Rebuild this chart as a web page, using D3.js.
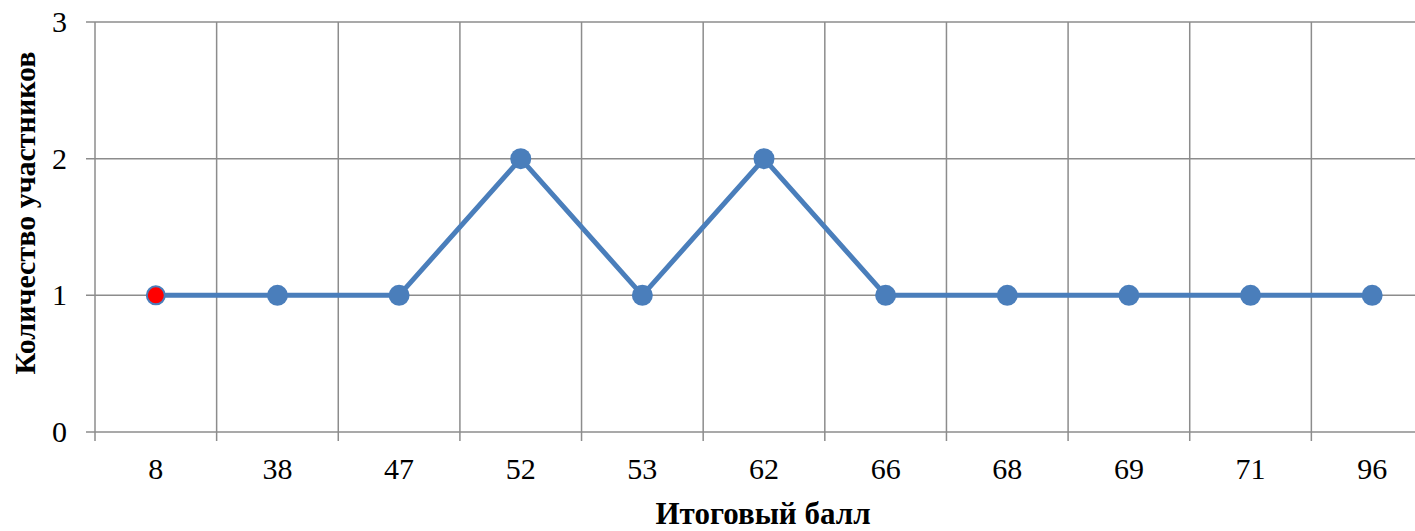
<!DOCTYPE html>
<html>
<head>
<meta charset="utf-8">
<script src="https://cdn.jsdelivr.net/npm/d3@7"></script>
<style>
  body { margin: 0; background: #fff; }
  svg { display: block; font-family: "Liberation Serif", "Times New Roman", serif; }
</style>
</head>
<body>
<svg id="chart" width="1415" height="531"></svg>
<script>
// scores (categories) and number of participants
const scores = ["8", "38", "47", "52", "53", "62", "66", "68", "69", "71", "96"];
const counts = [1, 1, 1, 2, 1, 2, 1, 1, 1, 1, 1];
const yTicks = [0, 1, 2, 3];
const highlighted = ["8"];

const svg = d3.select("#chart");
const margin = { left: 95, top: 22, bottom: 99 };
const plotW = 1338; // runs past the right edge of the picture, as in the original
const height = 531 - margin.top - margin.bottom;

const g = svg.append("g").attr("transform", `translate(${margin.left},${margin.top})`);

const x = d3.scaleBand().domain(scores).range([0, plotW]);
const y = d3.scaleLinear().domain([0, 3]).range([height, 0]);

const gridColor = "#8c8c8c";

// horizontal grid + y tick marks
g.selectAll(".hgrid")
  .data(yTicks)
  .join("line")
  .attr("x1", -9).attr("x2", plotW)
  .attr("y1", d => y(d)).attr("y2", d => y(d))
  .attr("stroke", gridColor).attr("stroke-width", 1.5);

// vertical grid at band boundaries (with tick below the axis)
const bounds = scores.map(s => x(s)).concat([plotW]);
g.selectAll(".vgrid")
  .data(bounds)
  .join("line")
  .attr("x1", d => d).attr("x2", d => d)
  .attr("y1", 0).attr("y2", height + 9)
  .attr("stroke", gridColor).attr("stroke-width", 1.5);

// y axis labels
const yAxis = d3.axisLeft(y).tickValues(yTicks).tickSize(0).tickPadding(28).tickFormat(d3.format("d"));
g.append("g").call(yAxis)
  .attr("font-size", null).attr("font-family", null)
  .call(a => a.select(".domain").remove())
  .selectAll("text")
  .style("font-size", "30px").attr("fill", "#000");

// x axis labels
const xAxis = d3.axisBottom(x).tickSize(0).tickPadding(26);
g.append("g").attr("transform", `translate(0,${height})`).call(xAxis)
  .attr("font-size", null).attr("font-family", null)
  .call(a => a.select(".domain").remove())
  .selectAll("text")
  .style("font-size", "30px").attr("fill", "#000");

// line
const cx = d => x(d) + x.bandwidth() / 2;
const line = d3.line().x((d, i) => cx(scores[i])).y(d => y(d));
g.append("path")
  .datum(counts)
  .attr("d", line)
  .attr("fill", "none")
  .attr("stroke", "#4a7ebb")
  .attr("stroke-width", 5)
  .attr("stroke-linejoin", "miter");

// markers
g.selectAll(".pt")
  .data(counts)
  .join("circle")
  .attr("cx", (d, i) => cx(scores[i]))
  .attr("cy", d => y(d))
  .attr("r", (d, i) => highlighted.includes(scores[i]) ? 9 : 10.5)
  .attr("fill", (d, i) => highlighted.includes(scores[i]) ? "#ff0000" : "#4a7ebb")
  .attr("stroke", "#4a7ebb")
  .attr("stroke-width", (d, i) => highlighted.includes(scores[i]) ? 2 : 0);

// axis titles
svg.append("text")
  .attr("transform", "translate(35,213) rotate(-90)")
  .attr("text-anchor", "middle")
  .attr("font-weight", "bold")
  .style("font-size", "30px")
  .text("Количество участников");

svg.append("text")
  .attr("x", 763).attr("y", 524)
  .attr("text-anchor", "middle")
  .attr("font-weight", "bold")
  .style("font-size", "31px")
  .text("Итоговый балл");
</script>
</body>
</html>
